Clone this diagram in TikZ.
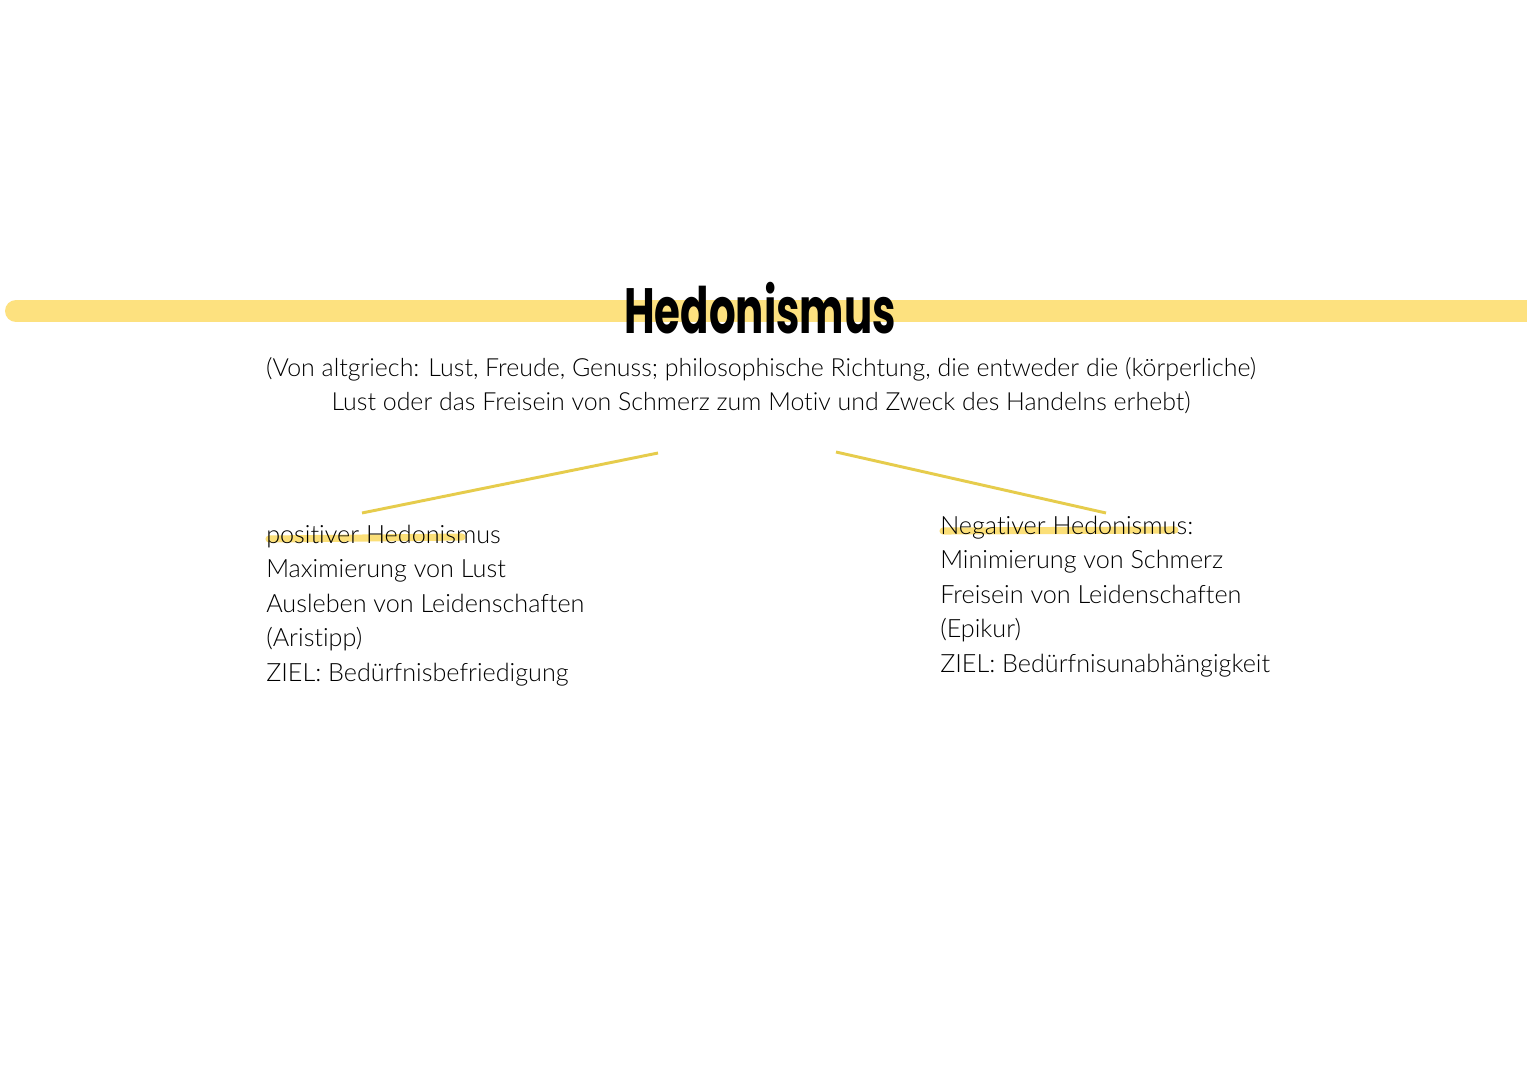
\documentclass[tikz,border=0pt]{standalone}
\usepackage{fontspec}
\setmainfont{Lato Light}[Ligatures=NoCommon]
\newfontfamily\titlefont{Poppins}
\definecolor{barY}{HTML}{FDE17F}
\definecolor{lineY}{HTML}{E6CC4C}
\definecolor{hlY}{HTML}{FBDF78}
\begin{document}
\begin{tikzpicture}[x=0.75pt,y=-0.75pt,
  body/.style={anchor=base west,inner sep=0pt,font=\fontsize{18.9}{18.9}\selectfont,text=black},
  subt/.style={anchor=base,inner sep=0pt,font=\fontsize{18.7}{18.7}\selectfont,text=black},
  conn/.style={draw=lineY,line width=2.2pt},
  hilite/.style={draw=hlY,line width=5.3pt,line cap=round},
]
\useasboundingbox[fill=white] (0,0) rectangle (1527,1080);
% bar
\draw[barY,line width=16.5pt,line cap=round] (16,311) -- (1560,311);
% title
\node[inner sep=0pt,font=\titlefont\bfseries\fontsize{48}{48}\selectfont] (title) at (760,308) {\scalebox{0.655}[1]{Hedonismus}};
% subtitle
\node[subt] (sub1) at (761,377) {(Von altgriech: Lust, Freude, Genuss; philosophische Richtung, die entweder die (körperliche)};
\node[subt] (sub2) at (761,411) {Lust oder das Freisein von Schmerz zum Motiv und Zweck des Handelns erhebt)};
\coordinate (cl) at (658,453);
\coordinate (cr) at (836,452);
% highlights
\draw[hilite] (269,539) -- (462,537);
\draw[hilite] (943,531) -- (1175,530);
% left block
\node[body] (l1) at (266,543) {positiver Hedonismus};
\node[body] (l2) at (266,577.5) {Maximierung von Lust};
\node[body] (l3) at (266,612) {Ausleben von Leidenschaften};
\node[body] (l4) at (266,646.5) {(Aristipp)};
\node[body] (l5) at (266,681) {ZIEL: Bedürfnisbefriedigung};
% right block
\node[body] (r1) at (940,534) {Negativer Hedonismus:};
\node[body] (r2) at (940,568.5) {Minimierung von Schmerz};
\node[body] (r3) at (940,603) {Freisein von Leidenschaften};
\node[body] (r4) at (940,637.5) {(Epikur)};
\node[body] (r5) at (940,672) {ZIEL: Bedürfnisunabhängigkeit};
% connectors
\coordinate (lt) at (362,513);
\coordinate (rt) at (1106,513);
\draw[conn] (cl) -- (lt);
\draw[conn] (cr) -- (rt);
\end{tikzpicture}
\end{document}
